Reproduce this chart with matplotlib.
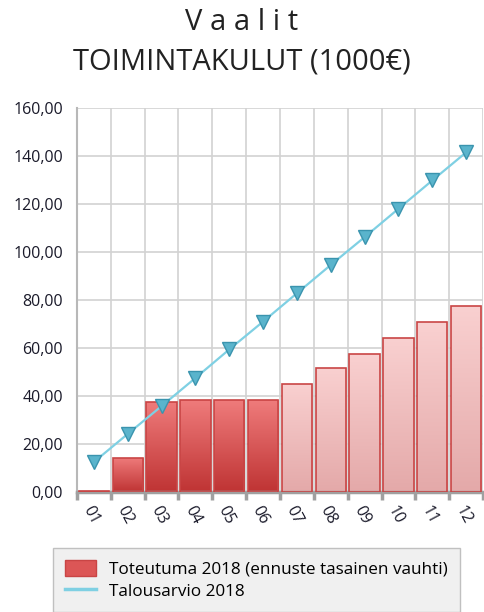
import numpy as np
import matplotlib.pyplot as plt
from matplotlib.colors import LinearSegmentedColormap
from matplotlib.lines import Line2D
from matplotlib.patches import Patch

# data
months = ['01', '02', '03', '04', '05', '06', '07', '08', '09', '10', '11', '12']
toteutuma = [0.5, 14.2, 37.5, 38.3, 38.3, 38.3, 45.0, 51.7, 57.5, 64.2, 70.8, 77.5]
talousarvio = [12.5, 24.2, 35.8, 47.5, 59.4, 71.0, 82.8, 94.6, 106.2, 118.0, 129.8, 141.5]
n_actual = 6  # first six months are actuals, rest is forecast

plt.rcParams['font.family'] = ['Open Sans', 'DejaVu Sans']

fig = plt.figure(figsize=(4.84, 6.12), dpi=100)
ax = fig.add_axes([77 / 484, 1 - 492 / 612, 406 / 484, 384 / 612])

x = np.arange(len(months))
bars = ax.bar(x, toteutuma, width=0.9, color='none', edgecolor='#c94545',
              linewidth=1.2, zorder=3)

# vertical gradient inside each bar
dark = LinearSegmentedColormap.from_list('dark', ['#bf3434', '#ef7b7b'])
light = LinearSegmentedColormap.from_list('light', ['#e4a9a9', '#f9d0d0'])
grad = np.linspace(0, 1, 100).reshape(-1, 1)
for i, b in enumerate(bars):
    cmap = dark if i < n_actual else light
    im = ax.imshow(grad, cmap=cmap, origin='lower', aspect='auto',
                   extent=[b.get_x(), b.get_x() + b.get_width(), 0, b.get_height()],
                   zorder=2)
    im.set_clip_path(b)

ax.plot(x, talousarvio, color='#7fd0e3', linewidth=1.6, zorder=4)
ax.plot(x, talousarvio, linestyle='none', marker='v', markersize=10,
        markerfacecolor='#5ab4cc', markeredgecolor='#3a94ae', zorder=5)

ax.set_xlim(-0.5, len(months) - 0.5)
ax.set_ylim(0, 160)
ax.set_yticks(np.arange(0, 161, 20))
ax.set_yticklabels([f'{v:.2f}'.replace('.', ',') for v in range(0, 161, 20)],
                   fontsize=11.5, color='#1a1a2a')
ax.set_xticks(x)
ax.set_xticklabels(months, fontsize=11.5, rotation=-62, ha='left', va='top',
                   rotation_mode='anchor', color='#1a1a2a')
ax.set_xticks(np.arange(-0.5, len(months), 1), minor=True)
ax.tick_params(axis='x', which='major', length=0, pad=8)
ax.tick_params(axis='x', which='minor', length=6, width=2.5, color='#a0a0a0')
ax.tick_params(axis='y', length=0, pad=10)

ax.grid(True, axis='y', color='#d2d2d2', linewidth=1.2, zorder=0)
ax.grid(True, axis='x', which='minor', color='#d2d2d2', linewidth=1.2, zorder=0)
ax.set_axisbelow(True)
for s in ['top', 'right']:
    ax.spines[s].set_visible(False)
ax.spines['left'].set_color('#b8b8b8')
ax.spines['left'].set_linewidth(1.5)
ax.spines['bottom'].set_color('#a0a0a0')
ax.spines['bottom'].set_linewidth(2.5)

fig.text(0.5, 1 - 22 / 612, 'V a a l i t', ha='center', va='center', fontsize=21,
         color='#222222')
fig.text(0.5, 1 - 62 / 612, 'TOIMINTAKULUT (1000€)', ha='center', va='center',
         fontsize=21, color='#222222')

handles = [Patch(facecolor='#dc5656', edgecolor='#c94545'),
           Line2D([0], [0], color='#7fd0e3', linewidth=2.5)]
labels = ['Toteutuma 2018 (ennuste tasainen vauhti)', 'Talousarvio 2018']
leg = fig.legend(handles, labels, loc='upper left',
                 bbox_to_anchor=(53 / 484, 1 - 548 / 612), fontsize=12.3,
                 frameon=True, fancybox=False, framealpha=1,
                 handlelength=1.8, handleheight=1.1, handletextpad=0.8,
                 labelspacing=0.25, borderpad=0.7, borderaxespad=0)
leg.get_frame().set_facecolor('#f0f0f0')
leg.get_frame().set_edgecolor('#c0c0c0')

fig.savefig('out.png', dpi=100)
